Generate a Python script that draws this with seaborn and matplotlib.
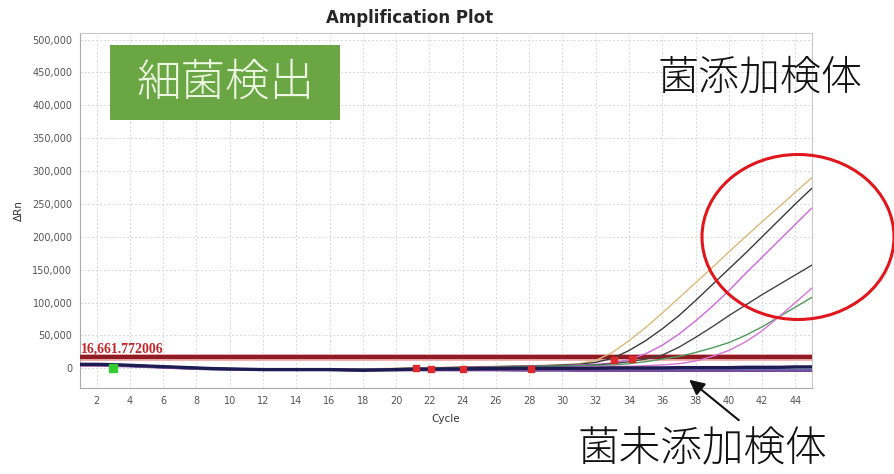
import numpy as np
import pandas as pd
import matplotlib
matplotlib.use("Agg")
import matplotlib.pyplot as plt
from matplotlib.patches import Ellipse, Rectangle
import seaborn as sns

# cycles and delta Rn readings (x1000)
CYCLES = list(range(1, 46))

TAN = [7, 6.5, 5.5, 4, 3, 2, 1, 0, -0.5, -1, -1.5, -1.5, -1.5, -1.5, -1.5, -1, -1, -1, -0.5, 0,
       0.5, 1, 1.5, 2, 2.5, 3, 3.5, 4, 4.5, 5.5, 7, 12, 24, 42, 62, 84, 107, 130, 153, 177,
       200, 223, 245, 268, 290]
BLACK = [6, 6, 5, 4, 3, 2, 1, 0, -0.5, -1, -1.5, -2, -2, -2, -2, -1.5, -1.5, -1, -1, -0.5,
         0, 0.5, 1, 1.5, 2, 2.5, 3, 3.5, 4, 5, 6, 9, 15, 27, 42, 60, 80, 103, 127, 151,
         175, 200, 225, 250, 274]
MAGENTA = [5, 5, 4.5, 3.5, 2.5, 1.5, 0.5, -0.5, -1, -1.5, -2, -2, -2, -2, -2, -2, -1.5, -1.5, -1, -1,
           -0.5, 0, 0.5, 1, 1.5, 2, 2.5, 3, 3.5, 4, 5, 6, 8, 13, 22, 35, 52, 72, 94, 118,
           144, 169, 194, 219, 244]
DARKGRAY = [6, 5.5, 5, 4, 3, 2, 1, 0, -1, -1.5, -2, -2, -2.5, -2.5, -2.5, -2, -2, -2, -1.5, -1.5,
            -1, -0.5, 0, 0.5, 1, 1.5, 2, 2.5, 3, 3.5, 4, 5, 7, 10, 14, 20, 32, 47, 63, 80,
            96, 112, 127, 142, 157]
GREEN = [5, 5, 4.5, 3.5, 2.5, 1.5, 0.5, -0.5, -1, -1.5, -2, -2, -2, -2, -2, -2, -2, -1.5, -1.5, -1,
         -1, -0.5, 0, 0.5, 1, 1.5, 2, 2.5, 3, 3.5, 4, 4.5, 5, 7, 10, 14, 18, 24, 31, 39,
         50, 63, 78, 93, 108]
PINK = [4, 4, 3.5, 3, 2, 1, 0, -1, -1.5, -2, -2.5, -2.5, -2.5, -2.5, -2.5, -2.5, -2.5, -2, -2, -2,
        -1.5, -1.5, -1, -1, -0.5, 0, 0, 0.5, 1, 1.5, 2, 2.5, 3, 3, 4, 5, 7, 11, 18, 27,
        40, 57, 78, 100, 122]
NAVY = [6, 6, 5.5, 4.5, 3.5, 2.5, 1.5, 0.5, -0.5, -1, -1.5, -2, -2, -2, -2, -2, -2.5, -3, -2.5, -2,
        -1.5, -1.5, -1, -1, -0.5, -0.5, 0, 0, 0, 0, 0, 0, 0.5, 0.5, 0.5, 0.5, 1, 1, 1, 1,
        1.5, 1.5, 1.5, 2, 2]
BLUE = [5, 5, 4.5, 3.5, 2.5, 1.5, 0.5, -0.5, -1, -1.5, -2, -2, -2.5, -2.5, -2.5, -2.5, -2.5, -2.5, -2.5, -2.5,
        -2.5, -2.5, -2.5, -2.5, -2.5, -2.5, -2.5, -3, -3, -3, -3, -3, -3, -3, -3, -3, -3, -3, -3, -3,
        -3, -3, -3, -3, -3]
PURPLE = [4, 4, 3.5, 3, 2, 1, 0, -1, -1.5, -2, -2, -2.5, -2.5, -2.5, -2.5, -2.5, -3, -3, -3, -3,
          -3, -3, -3, -3, -3, -3, -3.5, -3.5, -3.5, -3.5, -4, -4, -4, -4, -4, -4, -4, -4, -4, -4,
          -4, -4, -4, -4, -4]

CURVES = {
    "tan": TAN, "black": BLACK, "magenta": MAGENTA, "darkgray": DARKGRAY,
    "green": GREEN, "pink": PINK, "navy": NAVY, "blue": BLUE, "purple": PURPLE,
}
COLORS = {
    "tan": "#d9b97c", "black": "#3a3a3a", "magenta": "#cc66dd", "darkgray": "#444444",
    "green": "#4f9a5f", "pink": "#d873d8", "navy": "#1c1c52", "blue": "#4060b0", "purple": "#7a4a9a",
}

THRESHOLD = 16661.772006

# Ct / baseline markers
GREEN_MARK_X = [3]
GREEN_MARK_Y = [1]
RED_MARK_X = [21.2, 22.1, 24, 28.1, 33.1, 34.2]
RED_MARK_Y = [0, -1, -1, -1, 12, 14]

YTICKS = list(range(0, 500001, 50000))
XTICKS = list(range(2, 45, 2))

rows = []
for name, vals in CURVES.items():
    for c, v in zip(CYCLES, vals):
        rows.append({"cycle": c, "drn": v * 1000, "well": name})
df = pd.DataFrame(rows)

sns.set_style("white")
plt.rcParams['font.family'] = ['DejaVu Sans', 'Noto Sans CJK JP']

fig = plt.figure(figsize=(8.95, 4.74), dpi=100)
ax = fig.add_axes([80 / 895, 1 - 388 / 474, 732 / 895, 355 / 474])

ax.grid(True, color="#d8d8d8", linestyle=(0, (2, 2)), linewidth=0.7)
ax.set_axisbelow(True)

# threshold band
ax.axhline(THRESHOLD, color="#eeb0b0", linewidth=5, zorder=2)
ax.axhline(THRESHOLD, color="#8e1c22", linewidth=3, zorder=3)

base = df[df["well"].isin(["navy", "blue", "purple"])]
amp = df[~df["well"].isin(["navy", "blue", "purple"])]
sns.lineplot(data=base, x="cycle", y="drn", hue="well", palette=COLORS, legend=False,
             linewidth=1.6, ax=ax, zorder=4)
sns.lineplot(data=amp, x="cycle", y="drn", hue="well", palette=COLORS, legend=False,
             linewidth=1.0, ax=ax, zorder=5)
# thick navy baseline on top
sns.lineplot(data=df[df["well"] == "navy"], x="cycle", y="drn", color=COLORS["navy"],
             linewidth=2.4, ax=ax, zorder=6)

ax.scatter(GREEN_MARK_X, [v * 1000 for v in GREEN_MARK_Y], s=40, marker="s",
           color="#33cc33", zorder=7)
ax.scatter(RED_MARK_X, [v * 1000 for v in RED_MARK_Y], s=18, marker="s",
           color="#dd2a2a", zorder=7)

ax.text(1.05, THRESHOLD + 2500, "16,661.772006", color="#c0282c", fontsize=10,
        family="Liberation Serif", fontweight="bold", va="bottom", ha="left", zorder=8)

ax.set_xlim(1, 45)
ax.set_ylim(-30000, 510000)
ax.set_xticks(XTICKS)
ax.set_yticks(YTICKS)
ax.set_yticklabels([f"{v:,}" for v in YTICKS])
ax.tick_params(axis="both", labelsize=7, colors="#555555", length=2, width=0.6)
for s in ax.spines.values():
    s.set_color("#c8c8c8")
    s.set_linewidth(0.8)
ax.spines["left"].set_color("#aaaaaa")
ax.spines["bottom"].set_color("#aaaaaa")

ax.set_xlabel("Cycle", fontsize=7.5, color="#333333", labelpad=6)
ax.set_ylabel("ΔRn", fontsize=7.5, color="#333333", labelpad=6)
ax.set_title("Amplification Plot", fontsize=12, fontweight="bold", pad=7, x=0.45)

# green label box
fig.patches.append(Rectangle((110 / 895, 1 - 120 / 474), 230 / 895, 75 / 474,
                             transform=fig.transFigure, facecolor="#6aa744",
                             edgecolor="none", zorder=10))
fig.text(225 / 895, 1 - 83 / 474, "細菌検出", family="Noto Sans CJK JP", fontsize=32,
         fontweight="light", color="#eef8e2", ha="center", va="center", zorder=11)

fig.text(760 / 895, 1 - 78 / 474, "菌添加検体", family="Noto Sans CJK JP", fontsize=29.5,
         fontweight="light", color="#111111", ha="center", va="center")
fig.text(702 / 895, 1 - 450 / 474, "菌未添加検体", family="Noto Sans CJK JP", fontsize=30,
         fontweight="light", color="#111111", ha="center", va="center")

# red ellipse round the amplified wells
fig.patches.append(Ellipse((798 / 895, 1 - 237 / 474), 192 / 895, 165 / 474,
                           transform=fig.transFigure, fill=False, edgecolor="#e0161c",
                           linewidth=2.2, zorder=12))

# arrow to the non-added wells
ax.annotate("", xy=(687 / 895, 1 - 378 / 474), xytext=(741 / 895, 1 - 422 / 474),
            xycoords="figure fraction", textcoords="figure fraction",
            arrowprops=dict(arrowstyle="-|>,head_length=0.9,head_width=0.45",
                            color="#111111", linewidth=1.5), annotation_clip=False)

fig.savefig("out.png", dpi=100)
